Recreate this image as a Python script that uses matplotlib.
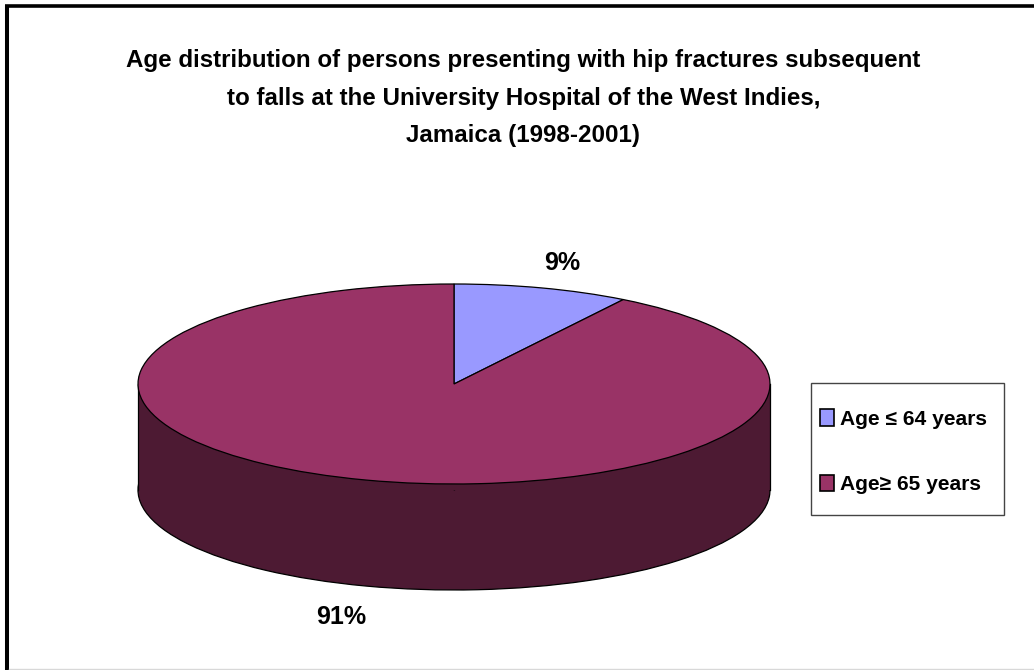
import matplotlib
matplotlib.use("Agg")
import matplotlib.pyplot as plt
from matplotlib.patches import Rectangle

plt.rcParams['font.family'] = ['Liberation Sans', 'DejaVu Sans']

categories = ['Age ≤ 64 years', 'Age≥ 65 years']
values = [9, 91]
colors = ['#9999FF', '#993366']
side_color = '#4D1A33'
title = ('Age distribution of persons presenting with hip fractures subsequent\n'
         'to falls at the University Hospital of the West Indies,\n'
         'Jamaica (1998-2001)')

W, H = 1034, 670
CX, CY, RX, RY, DEPTH = 454, 384, 316, 100, 106

fig = plt.figure(figsize=(W / 100, H / 100), dpi=100, facecolor='white')
ax = fig.add_axes([0, 0, 1, 1])
ax.set_axis_off()

edge = dict(edgecolor='black', linewidth=0.9)
d = DEPTH / RY
# bottom of the cylinder
ax.pie(values, colors=[side_color] * 2, startangle=90, counterclock=False,
       center=(0, -d), radius=1, wedgeprops=dict(edgecolor='black', linewidth=0.9), frame=True)
ax.add_patch(Rectangle((-1, -d), 2, d, facecolor=side_color, edgecolor='none', zorder=1.5))
ax.plot([-1, -1], [-d, 0], color='black', lw=0.9, zorder=1.6)
ax.plot([1, 1], [-d, 0], color='black', lw=0.9, zorder=1.6)
wedges, _ = ax.pie(values, colors=colors, startangle=90, counterclock=False,
                   center=(0, 0), radius=1, wedgeprops=edge, frame=True)
for w in wedges:
    w.set_zorder(2)
ax.set_aspect('auto')
ax.set_xlim(-CX / RX, (W - CX) / RX)
ax.set_ylim((CY - H) / RY, CY / RY)
ax.set_axis_off()

# percent labels
ax.text((562 - CX) / RX, (CY - 263.5) / RY, f'{values[0]}%', ha='center', va='center',
        fontsize=18, fontweight='bold', zorder=5)
ax.text((341 - CX) / RX, (CY - 617) / RY, f'{values[1]}%', ha='center', va='center',
        fontsize=18, fontweight='bold', zorder=5)

# title
fig.text(523.5 / W, 1 - 98 / H, title, ha='center', va='center', fontsize=17.35,
         fontweight='bold', linespacing=1.8)

# legend frame and legend
fig.add_artist(Rectangle((811 / W, 1 - 515 / H), 193 / W, 132 / H, transform=fig.transFigure,
                         facecolor='white', edgecolor='#444444', linewidth=1.0, zorder=3))
leg = ax.legend(wedges, categories, loc='upper left', bbox_to_anchor=(820 / W, 1 - 409 / H),
                bbox_transform=fig.transFigure, frameon=False,
                prop=dict(size=15.1, weight='bold'),
                labelspacing=2.19, handlelength=0.67, handleheight=0.85, handletextpad=0.29,
                borderpad=0, borderaxespad=0)
leg.set_zorder(6)
ax.set_zorder(4)
for h in leg.legend_handles:
    h.set_edgecolor('black')
    h.set_linewidth(1.2)

# outer frame: left and top heavy, faint bottom
fig.add_artist(plt.Line2D([7 / W, 7 / W], [0, 1 - 5 / H], color='black', lw=2.9, solid_capstyle='butt'))
fig.add_artist(plt.Line2D([5 / W, 1], [1 - 6.3 / H, 1 - 6.3 / H], color='black', lw=2.6, solid_capstyle='butt'))
fig.add_artist(plt.Line2D([9 / W, 1], [1 - 669.3 / H, 1 - 669.3 / H], color='#d8d8d8', lw=1))

fig.savefig('out.png', dpi=100, facecolor='white')
